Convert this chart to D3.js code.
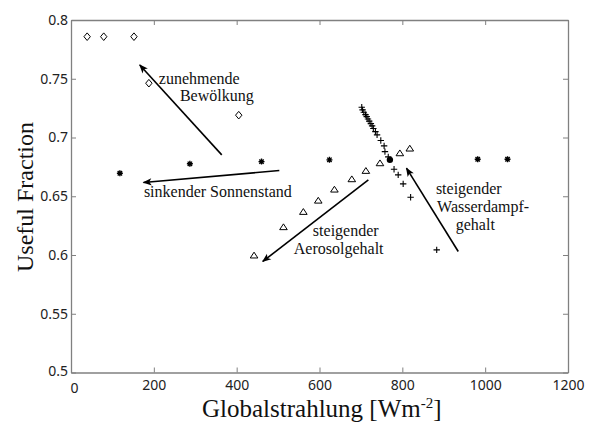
<!DOCTYPE html>
<html>
<head>
<meta charset="utf-8">
<script src="https://d3js.org/d3.v7.min.js"></script>
<style>
  body { margin: 0; background: #fff; }
  .tick text { font-family: "Noto Sans", sans-serif; font-size: 14px; fill: #222; }
  .note { font-family: "Liberation Serif", serif; font-size: 16px; fill: #111; }
  .axlabel { font-family: "Liberation Serif", serif; font-size: 24px; fill: #111; }
</style>
</head>
<body>
<div id="my_dataviz"></div>
<script>
// scatter series, x = Globalstrahlung [W/m2], y = useful fraction
var cloudX = [39, 79, 152, 188, 405];
var cloudY = [0.7858, 0.7858, 0.7858, 0.7462, 0.719];

var sunX = [118, 287, 460, 624, 982, 1054];
var sunY = [0.6696, 0.6776, 0.6795, 0.681, 0.6815, 0.6815];

var aeroX = [442, 513, 561, 597, 636, 678, 712, 746, 794, 818];
var aeroY = [0.5996, 0.6237, 0.6367, 0.6463, 0.6557, 0.6645, 0.6716, 0.6781, 0.6866, 0.6906];

var waterX = [702, 704, 707, 711, 714, 717, 720, 724, 727, 730, 735, 739, 748, 756, 758, 766, 780, 790, 802, 820, 883];
var waterY = [0.7258, 0.7235, 0.7215, 0.7195, 0.7178, 0.7158, 0.7139, 0.7118, 0.7099, 0.7076, 0.705, 0.7022, 0.6974, 0.6929, 0.688, 0.6835, 0.673, 0.6682, 0.6605, 0.6492, 0.6044];

// base case where all series meet
var baseX = [770];
var baseY = [0.681];

var xTicks = [0, 200, 400, 600, 800, 1000, 1200];
var yTicks = [0.5, 0.55, 0.6, 0.65, 0.7, 0.75, 0.8];

// arrows [x1, y1, x2, y2] in data units, head at the second point
var arrows = [
  [364, 0.6852, 166, 0.7617],
  [503, 0.6719, 175, 0.6617],
  [718, 0.664, 463, 0.5945],
  [935, 0.603, 810, 0.6739]
];

// annotation lines, anchored at start
var noteText = ["zunehmende", "Bewölkung", "sinkender Sonnenstand", "steigender", "Aerosolgehalt",
                "steigender", "Wasserdampf-", "gehalt"];
var noteX = [212, 263, 176, 584, 538, 881, 884, 929];
var noteY = [0.7456, 0.7311, 0.6495, 0.6163, 0.601, 0.652, 0.637, 0.6214];

var W = 594, H = 423;
var margin = {top: 20, right: 26, bottom: 50.5, left: 71},
    width = W - margin.left - margin.right,
    height = H - margin.top - margin.bottom;

var svg = d3.select("#my_dataviz")
      .append("svg")
      .attr("width", W)
      .attr("height", H);

var x = d3.scaleLinear().domain([0, 1200]).range([0, width]);
var y = d3.scaleLinear().domain([0.5, 0.8]).range([height, 0]);

var g = svg.append("g")
    .attr("transform", "translate(" + margin.left + "," + margin.top + ")");

var axisColor = "#808080";

// matlab style box: ticks inside on all four sides
var xAxis = d3.axisBottom(x).tickValues(xTicks).tickSizeInner(-5).tickSizeOuter(0).tickPadding(8)
    .tickFormat(d3.format("d"));
var yAxis = d3.axisLeft(y).tickValues(yTicks).tickSizeInner(-5).tickSizeOuter(0).tickPadding(3)
    .tickFormat(function(d) { return d3.format("")(+d.toFixed(2)); });
var xTop = d3.axisTop(x).tickValues(xTicks).tickSizeInner(-5).tickSizeOuter(0).tickFormat("");
var yRight = d3.axisRight(y).tickValues(yTicks).tickSizeInner(-5).tickSizeOuter(0).tickFormat("");

g.append("g").attr("transform", "translate(0," + height + ")").call(xAxis);
g.append("g").call(yAxis);
g.append("g").call(xTop);
g.append("g").attr("transform", "translate(" + width + ",0)").call(yRight);

g.selectAll(".domain").attr("stroke", axisColor).attr("stroke-width", 1.3);
g.selectAll(".tick line").attr("stroke", axisColor);

// end labels of the axes sit off the corner like in matlab
g.selectAll(".tick text").filter(function(d) { return d === 0; })
  .attr("dx", 3).attr("y", 11);
g.selectAll(".tick text").filter(function(d) { return d === 0.5; })
  .attr("dy", "0.2em");

// markers
var diamond = "M0,-3.8L3.2,0L0,3.8L-3.2,0Z";
var tri = "M0,-3.3L3.8,2.5L-3.8,2.5Z";
var plus = "M-3.2,0H3.2M0,-3.2V3.2";
var star = "M-3,0H3M0,-3V3M-2.2,-2.2L2.2,2.2M-2.2,2.2L2.2,-2.2";

function drawSeries(xs, ys, shape, fill, sw) {
  g.append("g").selectAll("path")
    .data(xs)
    .enter().append("path")
    .attr("d", shape)
    .attr("fill", fill)
    .attr("stroke", "#000")
    .attr("stroke-width", sw)
    .attr("transform", function(d, i) { return "translate(" + x(d) + "," + y(ys[i]) + ")"; });
}

drawSeries(cloudX, cloudY, diamond, "none", 1);
drawSeries(sunX, sunY, star, "none", 1.4);
drawSeries(aeroX, aeroY, tri, "none", 1);
drawSeries(waterX, waterY, plus, "none", 1.1);

g.selectAll(".base")
  .data(baseX)
  .enter().append("circle")
  .attr("class", "base")
  .attr("cx", function(d) { return x(d); })
  .attr("cy", function(d, i) { return y(baseY[i]); })
  .attr("r", 3.2)
  .attr("fill", "#000");

// arrow heads
svg.append("defs").append("marker")
    .attr("id", "head")
    .attr("viewBox", "0 0 10 10")
    .attr("refX", 9).attr("refY", 5)
    .attr("markerUnits", "userSpaceOnUse")
    .attr("markerWidth", 10).attr("markerHeight", 9)
    .attr("orient", "auto")
  .append("path")
    .attr("d", "M0,1L10,5L0,9L2.5,5Z")
    .attr("fill", "#000");

g.selectAll(".arrow")
  .data(arrows)
  .enter().append("line")
  .attr("class", "arrow")
  .attr("x1", function(d) { return x(d[0]); })
  .attr("y1", function(d) { return y(d[1]); })
  .attr("x2", function(d) { return x(d[2]); })
  .attr("y2", function(d) { return y(d[3]); })
  .attr("stroke", "#000")
  .attr("stroke-width", 1.6)
  .attr("marker-end", "url(#head)");

g.selectAll(".note")
  .data(noteText)
  .enter().append("text")
  .attr("class", "note")
  .attr("x", function(d, i) { return x(noteX[i]); })
  .attr("y", function(d, i) { return y(noteY[i]); })
  .text(function(d) { return d; });

// axis titles
var xl = svg.append("text")
  .attr("class", "axlabel")
  .style("font-size", "25px")
  .attr("x", 202)
  .attr("y", 417);
xl.append("tspan").text("Globalstrahlung [Wm");
xl.append("tspan").attr("dy", -9).style("font-size", "15px").text("-2");
xl.append("tspan").attr("dy", 9).text("]");

svg.append("text")
  .attr("class", "axlabel")
  .attr("transform", "translate(33,197) rotate(-90)")
  .attr("text-anchor", "middle")
  .text("Useful Fraction");
</script>
</body>
</html>
